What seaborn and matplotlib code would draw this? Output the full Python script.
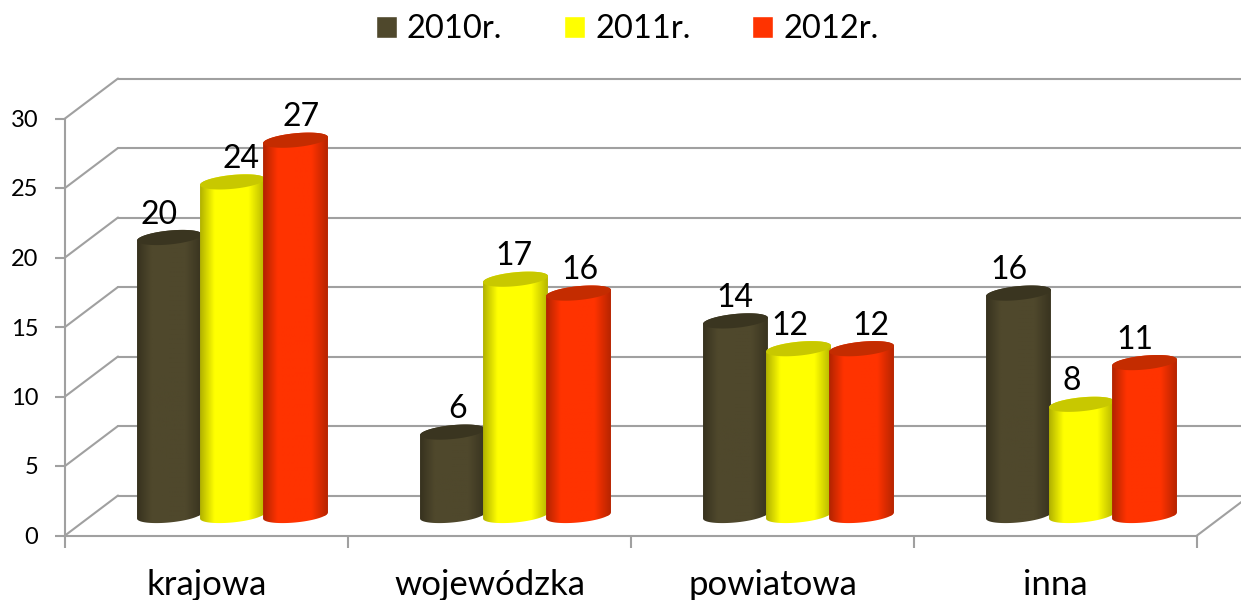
import numpy as np
import pandas as pd
import matplotlib
matplotlib.use("Agg")
import matplotlib.pyplot as plt
import seaborn as sns
from matplotlib.colors import to_rgb
from matplotlib.lines import Line2D
from matplotlib.patches import Polygon
from matplotlib.transforms import Affine2D, IdentityTransform

# Dane
categories = ["krajowa", "wojewódzka", "powiatowa", "inna"]
years = ["2010r.", "2011r.", "2012r."]
values_2010 = [20, 6, 14, 16]
values_2011 = [24, 17, 12, 8]
values_2012 = [27, 16, 12, 11]
y_ticks = [0, 5, 10, 15, 20, 25, 30]

# Kolory i przesunięcia etykiet (piksele)
colors = ["#4F482C", "#FFFF00", "#FF3300"]
cap_colors = ["#3A3520", "#C8C800", "#C42C00"]
label_dx = [[-10, 5, -1, -10], [8, -2, -9, -10], [6, 1, 9, -10]]
grey = "#A0A0A0"

sns.set_theme(style="white")
plt.rcParams["font.family"] = ["Lato", "DejaVu Sans"]

W, H = 1241, 600
fig = plt.figure(figsize=(W / 100, H / 100), dpi=100)


def box(x0, x1, ytop, ybot):
    return [x0 / W, 1 - ybot / H, (x1 - x0) / W, (ybot - ytop) / H]


# Płaszczyzna przednia: osie, podziałki, siatka
front = fig.add_axes(box(65, 1197, 118.5, 535.5))
front.set_xlim(-0.5, 3.5)
front.set_ylim(0, 30)
front.set_facecolor("none")
for side in ["top", "right"]:
    front.spines[side].set_visible(False)
for side in ["left", "bottom"]:
    front.spines[side].set_color(grey)
    front.spines[side].set_linewidth(1.5)
front.set_yticks(y_ticks)
front.set_xticks(range(len(categories)))
front.set_xticklabels(categories)
front.set_xticks(np.arange(-0.5, 4), minor=True)
front.tick_params(axis="y", length=7.2, width=1.5, color=grey, pad=12, labelsize=17, left=True,
                  labelcolor="black")
front.tick_params(axis="x", which="major", length=0, pad=24, labelsize=25, labelcolor="black")
front.tick_params(axis="x", which="minor", length=8.6, width=1.5, color=grey, bottom=True)

# Tylna ściana przesunięta o głębokość wykresu
back = front.transData + Affine2D().translate(53, 40)
for v in y_ticks:
    front.plot([-0.5, 3.5], [v, v], color=grey, lw=1.5, transform=back, clip_on=False)
    px, py = front.transData.transform((-0.5, v))
    fig.add_artist(Line2D([px, px + 53], [py, py + 40], color=grey, lw=1.5,
                          transform=IdentityTransform()))
px, py = front.transData.transform((3.5, 0))
fig.add_artist(Line2D([px, px + 53], [py, py + 40], color=grey, lw=1.5,
                      transform=IdentityTransform()))

# Płaszczyzna środkowa: walce
ax = fig.add_axes(box(91, 1223, 98.5, 515.5))
df = pd.DataFrame({
    "typ": categories * 3,
    "rok": np.repeat(years, len(categories)),
    "liczba": values_2010 + values_2011 + values_2012,
})
sns.barplot(data=df, x="typ", y="liczba", hue="rok", palette=colors, width=0.668,
            saturation=1, ax=ax)
ax.set_xlim(-0.5, 3.5)
ax.set_ylim(0, 30)
ax.patch.set_alpha(0)

# Elipsa podstawy walca, lekko pochylona
cap_b, cap_s = 0.5, 0.22
t = np.linspace(0, 2 * np.pi, 81)
for i, container in enumerate(ax.containers):
    base = np.array(to_rgb(colors[i]))
    shade = np.interp(np.linspace(0, 1, 64), [0, 0.22, 0.75, 1], [0.7, 1, 1, 0.72])
    grad = (shade[:, None] * base)[None, :, :]
    for j, patch in enumerate(container):
        zo = 3 + i
        val = patch.get_height()
        a = patch.get_width() / 2 * 1.03
        cx = patch.get_x() + patch.get_width() / 2
        ex = a * np.cos(t)
        ey = cap_b * np.sin(t) + cap_s * np.cos(t)
        low = t >= np.pi
        upp = t <= np.pi
        # obrys walca: dolny łuk, prawa krawędź, górny łuk
        xs = np.r_[cx + ex[low], cx + ex[upp]]
        ys = np.r_[ey[low], val + ey[upp]]
        body = Polygon(np.c_[xs, ys], closed=True, transform=ax.transData, fc="none", ec="none")
        patch.set_clip_path(body)
        patch.set_zorder(zo)
        im = ax.imshow(grad, extent=(cx - a, cx + a, -1, val + 1), aspect="auto", zorder=zo,
                       interpolation="bilinear")
        # inaczej obraz jest ucinany na krawędzi osi, poniżej wartości 0
        im.set_clip_box(fig.bbox)
        im.set_clip_path(body)
        ax.fill(cx + ex, val + ey, color=cap_colors[i], lw=0, zorder=zo, clip_on=False)
        ax.annotate(f"{val:.0f}", (cx, val), xytext=(label_dx[i][j], 14), textcoords="offset pixels",
                    ha="center", va="baseline", fontsize=23, color="black", zorder=10,
                    annotation_clip=False)

ax.set_xlim(-0.5, 3.5)
ax.set_ylim(0, 30)
ax.axis("off")

sns.move_legend(ax, "center", bbox_to_anchor=(627 / W, 1 - 29 / H), bbox_transform=fig.transFigure,
                ncol=3, frameon=False, title=None, fontsize=23.5, handlelength=0.66,
                handleheight=0.66, handletextpad=0.3, columnspacing=1.88, labelcolor="black")

fig.savefig("out.png", dpi=100)
